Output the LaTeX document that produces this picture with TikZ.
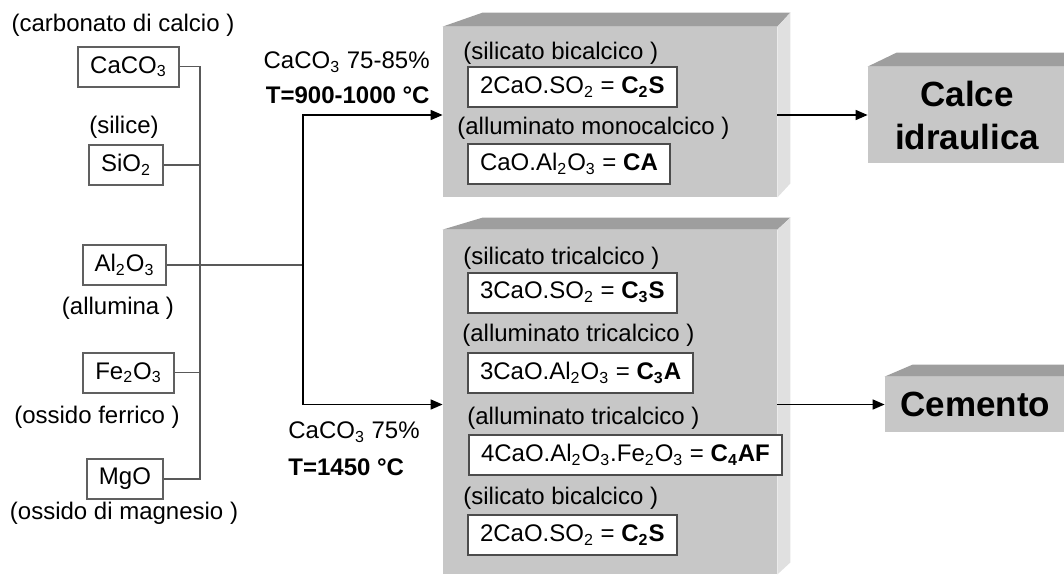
\documentclass[tikz,border=0pt]{standalone}
\usepackage{fontspec}
\setmainfont{Liberation Sans}
\usetikzlibrary{arrows.meta,calc}

\definecolor{facefront}{gray}{0.78}
\definecolor{facetop}{gray}{0.62}
\definecolor{faceside}{gray}{0.88}
\definecolor{wirecol}{gray}{0.35}

\begin{document}
\begin{tikzpicture}[x=0.5pt,y=-0.5pt,
  every node/.style={font=\fontsize{12}{14}\selectfont},
  heat/.style={inner sep=0pt, font=\fontsize{12}{14}\selectfont\bfseries},
  note/.style={inner sep=0pt},
  oxide/.style={draw=gray!75!black, line width=1pt, fill=white, inner xsep=6pt, minimum height=20pt},
  phase/.style={draw=black!70, line width=1pt, fill=white, inner xsep=6pt, minimum height=20pt, anchor=west},
  face/.style={fill=facefront, inner sep=0pt},
  wire/.style={draw=wirecol, line width=0.8pt},
  arr/.style={draw=black, line width=0.8pt, -{Triangle[length=6pt,width=5pt]}}]
\useasboundingbox (0,0) rectangle (1064,574);

% 3d blocks: front face is the node, top and side faces drawn on it
\node[face, minimum width=167pt, minimum height=85pt] (kilnA) at (610,112) {};
\fill[facetop] (kilnA.north west) -- ++(40,-14) -- ([shift={(13,-14)}]kilnA.north east) -- (kilnA.north east) -- cycle;
\fill[faceside] (kilnA.north east) -- ++(13,-14) -- ([shift={(13,-14)}]kilnA.south east) -- (kilnA.south east) -- cycle;

\node[face, minimum width=167pt, minimum height=172pt] (kilnB) at (610,402) {};
\fill[facetop] (kilnB.north west) -- ++(40,-12) -- ([shift={(13,-12)}]kilnB.north east) -- (kilnB.north east) -- cycle;
\fill[faceside] (kilnB.north east) -- ++(13,-12) -- ([shift={(13,-12)}]kilnB.south east) -- (kilnB.south east) -- cycle;

\node[face, minimum width=99pt, minimum height=48pt, align=center,
  font=\fontsize{17.5}{21.5}\selectfont\bfseries] (calce) at (967,115) {Calce\\idraulica};
\fill[facetop] (calce.north west) -- ++(29,-14) -- ([shift={(20,-14)}]calce.north east) -- (calce.north east) -- cycle;

\node[face, minimum width=90.5pt, minimum height=27.5pt,
  font=\fontsize{17.5}{21.5}\selectfont\bfseries] (cemento) at (975.5,404.5) {Cemento};
\fill[facetop] (cemento.north west) -- ++(28,-12) -- ([shift={(20,-12)}]cemento.north east) -- (cemento.north east) -- cycle;

% raw materials
\node (calcio) at (123,25) {(carbonato di calcio )};
\node[oxide] (caco3) at (128.5,66.5) {CaCO\textsubscript{3}};
\node (silice) at (124,127) {(silice)};
\node[oxide] (sio2) at (126,165) {SiO\textsubscript{2}};
\node[oxide] (al2o3) at (124.5,265) {Al\textsubscript{2}O\textsubscript{3}};
\node (allumina) at (118,308) {(allumina )};
\node[oxide] (fe2o3) at (128.5,372.5) {Fe\textsubscript{2}O\textsubscript{3}};
\node (ferrico) at (97,417) {(ossido ferrico )};
\node[oxide] (mgo) at (125,479) {MgO};
\node (magnesio) at (124,513) {(ossido di magnesio )};

% collector and split
\coordinate (bus) at (200,265);
\coordinate (split) at (303,265);
\draw[wire] (caco3.east) -- (caco3.east -| bus) -- (mgo.east -| bus) -- (mgo.east);
\draw[wire] (sio2.east) -- (sio2.east -| bus);
\draw[wire] (fe2o3.east) -- (fe2o3.east -| bus);
\draw[wire] (al2o3.east) -- (split);
\draw[arr] (split) |- (kilnA.west |- calce.west);
\draw[arr] (split) |- (kilnB.west |- cemento.west);

\node[note, anchor=east] (doseA) at (430,62) {CaCO\textsubscript{3} 75-85\%};
\node[heat, anchor=east] (tempA) at (430,95) {T=900-1000 °C};
\node[note, anchor=west] (doseB) at (288,432) {CaCO\textsubscript{3} 75\%};
\node[heat, anchor=west] (tempB) at (288,467) {T=1450 °C};

% phases, lime kiln
\node[note, anchor=west] (bicA) at (463,53) {(silicato bicalcico )};
\node[phase] (c2sA) at (467,87) {2CaO.SO\textsubscript{2} = \textbf{C\textsubscript{2}S}};
\node[note, anchor=west] (mono) at (457,128) {(alluminato monocalcico )};
\node[phase] (ca) at (467,164) {CaO.Al\textsubscript{2}O\textsubscript{3} = \textbf{CA}};

% phases, cement kiln
\node[note, anchor=west] (tric) at (463,258) {(silicato tricalcico )};
\node[phase] (c3s) at (467,292.5) {3CaO.SO\textsubscript{2} = \textbf{C\textsubscript{3}S}};
\node[note, anchor=west] (triA) at (462,335) {(alluminato tricalcico )};
\node[phase] (c3a) at (467,373) {3CaO.Al\textsubscript{2}O\textsubscript{3} = \textbf{C\textsubscript{3}A}};
\node[note, anchor=west] (triB) at (467,418) {(alluminato tricalcico )};
\node[phase] (c4af) at (468,455) {4CaO.Al\textsubscript{2}O\textsubscript{3}.Fe\textsubscript{2}O\textsubscript{3} = \textbf{C\textsubscript{4}AF}};
\node[note, anchor=west] (bicB) at (463,498) {(silicato bicalcico )};
\node[phase] (c2sB) at (467,535) {2CaO.SO\textsubscript{2} = \textbf{C\textsubscript{2}S}};

% products
\draw[arr] (kilnA.east |- calce.west) -- (calce.west);
\draw[arr] (kilnB.east |- cemento.west) -- (cemento.west);

\end{tikzpicture}
\end{document}
